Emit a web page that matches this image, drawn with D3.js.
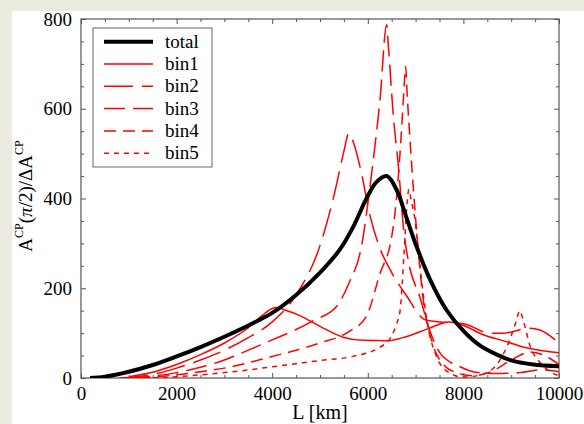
<!DOCTYPE html>
<html>
<head>
<meta charset="utf-8">
<script src="https://cdn.jsdelivr.net/npm/d3@7"></script>
<style>
  html, body { margin: 0; padding: 0; background: #ecebe0; }
  svg { display: block; }
</style>
</head>
<body>
<script>
// values (L in km, A = A^CP(pi/2)/dA^CP)
const totalL = [190, 500, 1000, 1500, 2000, 2500, 3000, 3500, 4000, 4500, 5000, 5420, 5700, 5980, 6185, 6395, 6605, 6800, 7020, 7300, 7650, 8000, 8350, 8700, 9040, 9460, 10000];
const totalA = [0, 3, 14, 29, 48, 69, 92, 117, 145, 185, 235, 287, 338, 402, 437, 450, 419, 360, 293, 220, 151, 105, 72, 52, 38, 30, 26];

const bin1L = [1000, 1500, 2000, 2500, 3000, 3500, 3800, 4000, 4100, 4250, 4600, 5000, 5480, 5900, 6400, 6800, 7240, 7700, 8000, 8400, 8900, 9250, 10000];
const bin1A = [3, 13, 30, 52, 78, 112, 140, 155, 157, 152, 138, 115, 91, 84, 83, 92, 109, 125, 117, 97, 81, 69, 56];

const bin2L = [800, 1500, 2000, 2500, 3000, 3500, 4000, 4500, 5000, 5300, 5500, 5600, 5700, 5850, 6050, 6250, 6500, 6800, 7200, 7600, 8000, 8560, 8830, 9390, 9600, 10000];
const bin2A = [0, 8, 22, 40, 62, 90, 125, 185, 295, 410, 505, 545, 525, 465, 360, 290, 235, 185, 130, 124, 121, 100, 100, 111, 107, 78];

const bin3L = [1000, 1500, 2000, 2500, 3000, 3500, 4000, 4500, 4860, 5350, 5600, 5870, 6080, 6255, 6395, 6430, 6530, 6650, 6750, 6850, 7090, 7300, 7510, 7930, 8300, 8700, 9200, 9600, 10000];
const bin3A = [0, 4, 12, 24, 40, 62, 85, 108, 128, 160, 210, 295, 456, 620, 787, 740, 590, 460, 330, 260, 180, 105, 56, 25, 12, 10, 12, 18, 14];

const bin4L = [1200, 2000, 2500, 3000, 3500, 4000, 4500, 5000, 5630, 5970, 6255, 6500, 6600, 6710, 6760, 6790, 6830, 6915, 6990, 7160, 7370, 7600, 7850, 8200, 8600, 9000, 9400, 9700, 10000];
const bin4A = [0, 7, 14, 22, 34, 48, 62, 78, 105, 137, 233, 315, 400, 560, 650, 694, 620, 480, 370, 174, 72, 28, 12, 5, 15, 40, 58, 50, 30];

const bin5L = [1500, 2000, 2500, 3000, 3500, 4000, 4500, 5000, 5630, 6260, 6465, 6600, 6675, 6760, 6830, 6860, 6900, 6990, 7100, 7250, 7450, 7700, 8000, 8400, 8700, 8950, 9100, 9180, 9260, 9400, 9600, 9800, 10000];
const bin5A = [0, 3, 7, 12, 18, 25, 32, 39, 47, 69, 88, 120, 150, 280, 400, 420, 400, 350, 240, 120, 45, 12, 2, 8, 30, 80, 125, 150, 125, 70, 35, 15, 5];

const seriesNames = ["total", "bin1", "bin2", "bin3", "bin4", "bin5"];
const xTicks = [0, 2000, 4000, 6000, 8000, 10000];
const yTicks = [0, 200, 400, 600, 800];

const W = 584, H = 424;
const serif = "'Liberation Serif', 'Times New Roman', 'DejaVu Serif', serif";
const svg = d3.select("body").append("svg").attr("width", W).attr("height", H)
  .attr("font-family", serif);

// white sheet, beige strip on top and left
svg.append("rect").attr("x", 12).attr("y", 11).attr("width", W - 12).attr("height", H - 11).attr("fill", "#fff");

const x = d3.scaleLinear().domain([0, 10000]).range([81, 559]);
const y = d3.scaleLinear().domain([0, 800]).range([378, 19]);

const frameColor = "#555";

svg.append("defs").append("clipPath").attr("id", "plotclip")
  .append("rect").attr("x", 81).attr("y", 19).attr("width", 478).attr("height", 359);

const minorX = d3.range(0, 10001, 500).filter(v => v % 2000 !== 0);
const minorY = d3.range(0, 801, 50).filter(v => v % 200 !== 0);

function styleAxis(g) {
  g.attr("font-family", serif).attr("font-size", 19);
  g.select(".domain").remove();
  g.selectAll("line").attr("stroke", frameColor);
  g.selectAll("text").attr("font-family", serif).attr("font-size", 19).attr("fill", "#000");
}

// bottom
svg.append("g").attr("transform", "translate(0,378)")
  .call(d3.axisBottom(x).tickValues(xTicks).tickSize(-5).tickPadding(9).tickFormat(d3.format("d")))
  .call(styleAxis);
svg.append("g").attr("transform", "translate(0,378)")
  .call(d3.axisBottom(x).tickValues(minorX).tickSize(-3).tickFormat(""))
  .call(styleAxis);
// top
svg.append("g").attr("transform", "translate(0,19)")
  .call(d3.axisTop(x).tickValues(xTicks).tickSize(-5).tickFormat(""))
  .call(styleAxis);
svg.append("g").attr("transform", "translate(0,19)")
  .call(d3.axisTop(x).tickValues(minorX).tickSize(-3).tickFormat(""))
  .call(styleAxis);
// left
svg.append("g").attr("transform", "translate(81,0)")
  .call(d3.axisLeft(y).tickValues(yTicks).tickSize(-5).tickPadding(9).tickFormat(d3.format("d")))
  .call(styleAxis);
svg.append("g").attr("transform", "translate(81,0)")
  .call(d3.axisLeft(y).tickValues(minorY).tickSize(-3).tickFormat(""))
  .call(styleAxis);
// right
svg.append("g").attr("transform", "translate(559,0)")
  .call(d3.axisRight(y).tickValues(yTicks).tickSize(-5).tickFormat(""))
  .call(styleAxis);
svg.append("g").attr("transform", "translate(559,0)")
  .call(d3.axisRight(y).tickValues(minorY).tickSize(-3).tickFormat(""))
  .call(styleAxis);

svg.append("rect").attr("x", 81).attr("y", 19).attr("width", 478).attr("height", 359)
  .attr("fill", "none").attr("stroke", frameColor).attr("stroke-width", 1.2);

const line = d3.line().x(d => x(d[0])).y(d => y(d[1])).curve(d3.curveMonotoneX);
const smooth = d3.line().x(d => x(d[0])).y(d => y(d[1])).curve(d3.curveCatmullRom.alpha(0.5));
const zip = (a, b) => a.map((v, i) => [v, b[i]]);

const series = [
  { name: "total", pts: zip(totalL, totalA), color: "#000", width: 4, dash: null },
  { name: "bin1", pts: zip(bin1L, bin1A), color: "#f00", width: 1.5, dash: null },
  { name: "bin2", pts: zip(bin2L, bin2A), color: "#f00", width: 1.5, dash: "29,9" },
  { name: "bin3", pts: zip(bin3L, bin3A), color: "#f00", width: 1.5, dash: "21,8" },
  { name: "bin4", pts: zip(bin4L, bin4A), color: "#f00", width: 1.5, dash: "12,7" },
  { name: "bin5", pts: zip(bin5L, bin5A), color: "#f00", width: 1.5, dash: "5,5" }
];

const plot = svg.append("g").attr("clip-path", "url(#plotclip)");
// draw red bins first, total on top
series.slice(1).concat(series.slice(0, 1)).forEach(s => {
  plot.append("path").datum(s.pts)
    .attr("d", s.name === "total" ? smooth : line)
    .attr("fill", "none")
    .attr("stroke", s.color)
    .attr("stroke-width", s.width)
    .attr("stroke-dasharray", s.dash)
    .attr("stroke-linejoin", "round");
});

// legend
const lg = svg.append("g");
lg.append("rect").attr("x", 93).attr("y", 28).attr("width", 119).attr("height", 139)
  .attr("fill", "#fff").attr("stroke", "#666").attr("stroke-width", 1);
series.forEach((s, i) => {
  const yy = 41.7 + i * 22.3;
  lg.append("line").attr("x1", 104).attr("x2", 153).attr("y1", yy).attr("y2", yy)
    .attr("stroke", s.color).attr("stroke-width", s.width).attr("stroke-dasharray", s.dash);
  lg.append("text").attr("x", 165).attr("y", yy + 6).attr("font-size", 19)
    .attr("font-family", serif).text(seriesNames[i]);
});

// axis labels
svg.append("text").attr("x", 320).attr("y", 419).attr("text-anchor", "middle")
  .attr("font-family", serif).attr("font-size", 20).text("L [km]");

const yl = svg.append("text").attr("transform", "translate(32,196) rotate(-90)")
  .attr("text-anchor", "middle").attr("font-family", serif).attr("font-size", 19);
yl.append("tspan").text("A");
yl.append("tspan").attr("font-size", 12).attr("dy", -9).text("CP");
yl.append("tspan").attr("dy", 9).text("(");
yl.append("tspan").attr("font-style", "italic").text("π");
yl.append("tspan").text("/2)/ΔA");
yl.append("tspan").attr("font-size", 12).attr("dy", -9).text("CP");
</script>
</body>
</html>
